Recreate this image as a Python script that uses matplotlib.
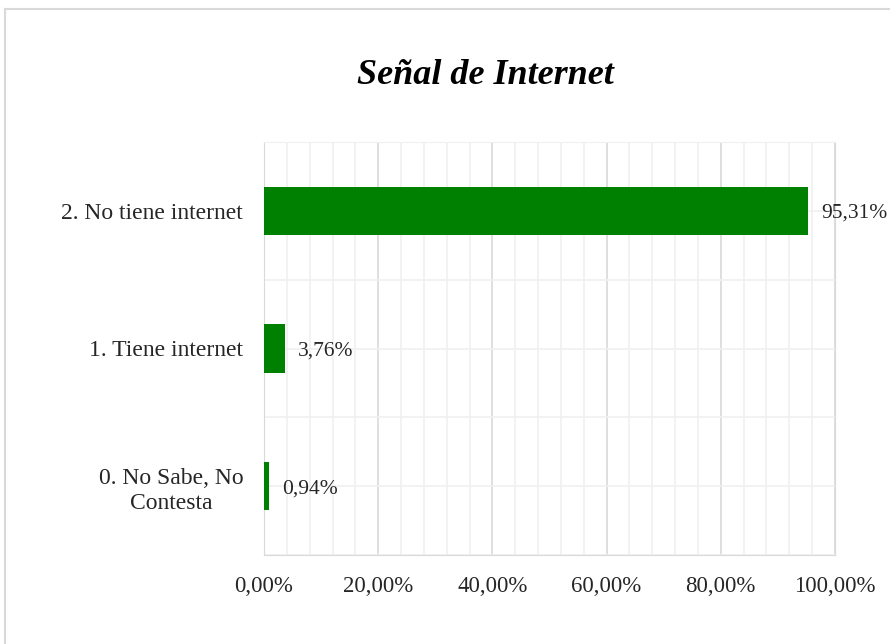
import matplotlib.pyplot as plt
from matplotlib.ticker import MultipleLocator, FuncFormatter

# datos
categorias = ['0. No Sabe, No\nContesta', '1. Tiene internet', '2. No tiene internet']
valores = [0.94, 3.76, 95.31]
titulo = 'Señal de Internet'

plt.rcParams['font.family'] = ['Liberation Serif', 'DejaVu Serif']

fig = plt.figure(figsize=(8.9, 6.44), dpi=100)
ax = fig.add_axes([264 / 890, 1 - 555 / 644, (835 - 264) / 890, (555 - 142) / 644])

pos = range(len(categorias))
ax.barh(pos, valores, height=0.35, color='#008000', zorder=3)

ax.set_xlim(0, 100)
ax.set_ylim(-0.5, 2.5)
ax.xaxis.set_major_locator(MultipleLocator(20))
ax.xaxis.set_minor_locator(MultipleLocator(4))
ax.xaxis.set_major_formatter(FuncFormatter(lambda v, p: f'{v:.2f}%'.replace('.', ',')))
ax.set_yticks(list(pos))
ax.set_yticklabels(categorias, ha='right', multialignment='center', linespacing=1.3)
ax.yaxis.set_minor_locator(MultipleLocator(0.5))

ax.grid(which='major', axis='x', color='#d9d9d9', lw=1.2, zorder=0)
ax.grid(which='minor', axis='x', color='#f0f0f0', lw=1.2, zorder=0)
ax.grid(which='minor', axis='y', color='#f0f0f0', lw=1.2, zorder=0)
ax.grid(which='major', axis='y', color='#f0f0f0', lw=1.2, zorder=0)

ax.spines['top'].set_color('#f0f0f0')
for s in ['left', 'bottom', 'right']:
    ax.spines[s].set_color('#d9d9d9')
ax.tick_params(which='both', length=0)
ax.tick_params(axis='x', labelsize=16.5, pad=15, colors='#262626')
ax.tick_params(axis='y', labelsize=17, pad=15, colors='#262626')

for i, v in enumerate(valores):
    ax.text(v + 2.2, i, f'{v:.2f}%'.replace('.', ','), va='center_baseline', ha='left',
            fontsize=15.5, color='#262626', clip_on=False)

fig.text(485 / 890, 1 - 75 / 644, titulo, ha='center', va='center',
         fontsize=26, fontweight='bold', fontstyle='italic', color='black')

# marco del gráfico
fig.add_artist(plt.Line2D([5 / 890, 5 / 890], [0, 1 - 9 / 644], color='#d9d9d9', lw=1.5))
fig.add_artist(plt.Line2D([5 / 890, 1], [1 - 9 / 644, 1 - 9 / 644], color='#d9d9d9', lw=1.5))

fig.savefig('out.png', dpi=100)
